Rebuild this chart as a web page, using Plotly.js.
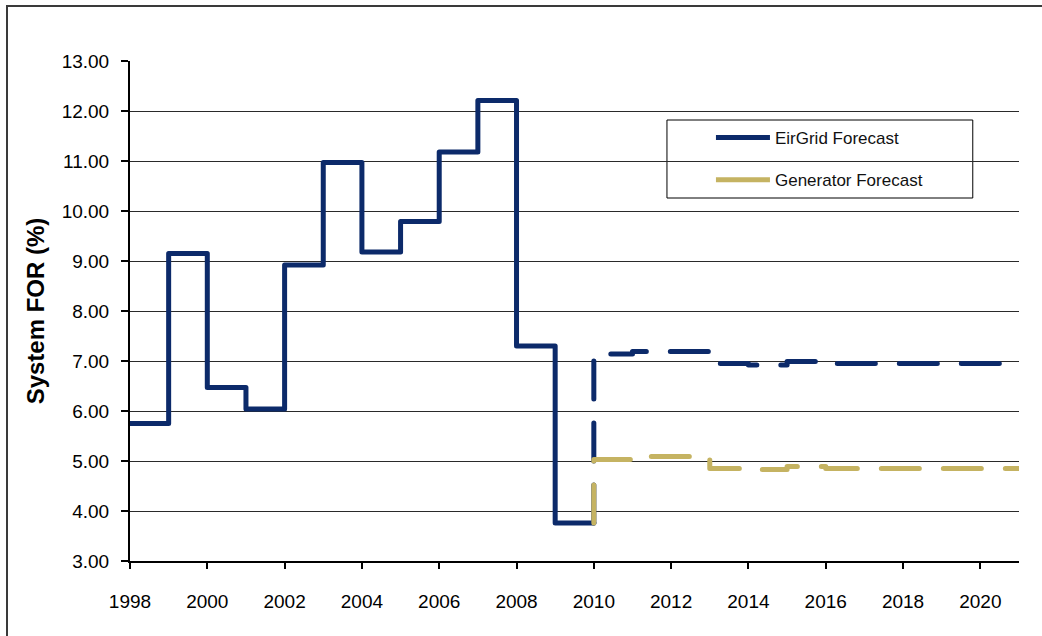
<!DOCTYPE html>
<html>
<head>
<meta charset="utf-8">
<script src="https://cdn.plot.ly/plotly-3.0.1.min.js"></script>
<style>
  html, body { margin: 0; padding: 0; background: #fff; }
  #wrap { position: relative; width: 1042px; height: 636px; overflow: hidden; }
  #frame { position: absolute; left: 6px; top: 5px; width: 1100px; height: 700px;
           border-left: 2px solid #3a3a3a; border-top: 2px solid #3a3a3a; pointer-events: none; }
  #chart { position: absolute; left: 0; top: 0; width: 1042px; height: 636px; }
  #chart .scatterlayer .js-line { stroke-linecap: round; stroke-linejoin: round; }
</style>
</head>
<body>
<div id="wrap">
  <div id="chart"></div>
  <div id="frame"></div>
</div>
<script>
// Historical system FOR (%) by year
const histYears = [1998, 1999, 2000, 2001, 2002, 2003, 2004, 2005, 2006, 2007, 2008, 2009];
const histFOR   = [5.75, 9.15, 6.47, 6.04, 8.92, 10.97, 9.18, 9.79, 11.18, 12.21, 7.30, 3.76];

// Forecast years and values
const fcYears   = [2010, 2011, 2012, 2013, 2014, 2015, 2016, 2017, 2018, 2019, 2020];
const eirgridFOR   = [7.14, 7.19, 7.19, 6.95, 6.92, 6.99, 6.95, 6.95, 6.95, 6.95, 6.95];
const generatorFOR = [5.03, 5.09, 5.09, 4.85, 4.83, 4.89, 4.85, 4.85, 4.85, 4.85, 4.85];

const seriesNames = ["EirGrid Forecast", "Generator Forecast"];
const yTicks = [3, 4, 5, 6, 7, 8, 9, 10, 11, 12, 13];
const xTicks = [1998, 2000, 2002, 2004, 2006, 2008, 2010, 2012, 2014, 2016, 2018, 2020];

const navy = "#0c2a6a";
const gold = "#c5b362";

// Step series: extend last value to the end of its year
function stepX(years) { return years.concat([years[years.length - 1] + 1]); }
function stepY(vals) { return vals.concat([vals[vals.length - 1]]); }

// Forecast starts from last historical value at the first forecast year
const lastHist = histFOR[histFOR.length - 1];
const fcX = [fcYears[0]].concat(stepX(fcYears));

const traces = [
  {
    x: stepX(histYears), y: stepY(histFOR),
    mode: "lines", line: {shape: "hv", color: navy, width: 5},
    showlegend: false, hoverinfo: "x+y"
  },
  {
    x: fcX, y: [lastHist].concat(stepY(eirgridFOR)),
    mode: "lines", line: {shape: "hv", color: navy, width: 5, dash: "38px,24px"},
    showlegend: false
  },
  {
    x: fcX, y: [lastHist].concat(stepY(generatorFOR)),
    mode: "lines", line: {shape: "hv", color: gold, width: 5, dash: "38px,24px"},
    showlegend: false
  },
  // legend entries
  {
    x: [null], y: [null], name: seriesNames[0], legendgroup: "a",
    mode: "lines", line: {color: navy, width: 5}
  },
  {
    x: [null], y: [null], name: seriesNames[1], legendgroup: "b",
    mode: "lines", line: {color: gold, width: 5}
  }
];

const layout = {
  width: 1042, height: 636,
  margin: {l: 130, r: 23, t: 61, b: 75},
  paper_bgcolor: "rgba(0,0,0,0)",
  plot_bgcolor: "#fff",
  font: {family: "Liberation Sans, Arial, sans-serif", color: "#000"},
  showlegend: true,
  legend: {
    x: 0.604, y: 0.882, xanchor: "left", yanchor: "top",
    bgcolor: "rgba(0,0,0,0)", borderwidth: 0,
    font: {size: 17, family: "Liberation Sans, Arial, sans-serif", color: "#111"},
    tracegroupgap: 17, itemwidth: 54, indentation: 44
  },
  shapes: [
    {
      type: "rect", xref: "paper", yref: "paper", layer: "below",
      x0: 0.604, x1: 0.948, y0: 0.726, y1: 0.882,
      fillcolor: "#fff", line: {color: "#000", width: 1}
    }
  ],
  xaxis: {
    range: [1998, 2021],
    tickvals: xTicks, ticktext: xTicks.map(String),
    ticks: "outside", ticklen: 6, tickwidth: 2, tickcolor: "#000",
    showline: true, linecolor: "#000", linewidth: 2,
    showgrid: false, zeroline: false,
    tickfont: {size: 19},
    ticklabelstandoff: 16
  },
  yaxis: {
    range: [3, 13],
    tickvals: yTicks, ticktext: yTicks.map(v => v.toFixed(2)),
    ticks: "outside", ticklen: 7, tickwidth: 1.5, tickcolor: "#000",
    showline: true, linecolor: "#000", linewidth: 2,
    showgrid: true, gridcolor: "#2a2a2a", gridwidth: 1,
    zeroline: false,
    tickfont: {size: 19},
    ticklabelstandoff: 8,
    title: {text: "<b>System FOR (%)</b>", font: {size: 24}, standoff: 10}
  }
};

Plotly.newPlot("chart", traces, layout, {displayModeBar: false, staticPlot: true});
</script>
</body>
</html>
